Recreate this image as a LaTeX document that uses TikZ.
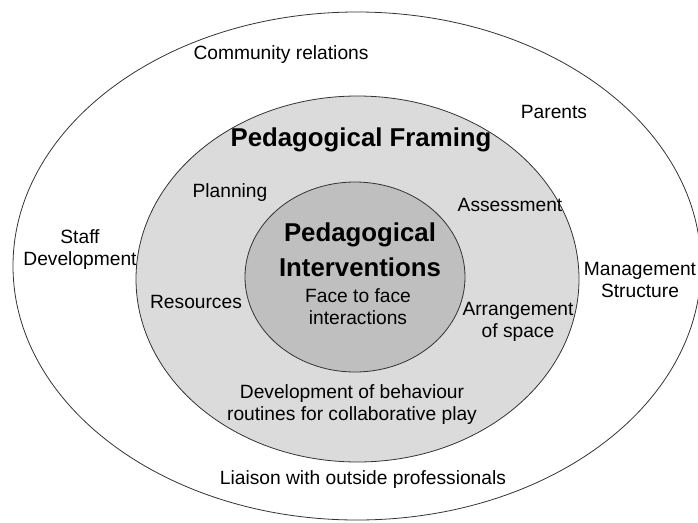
\documentclass[tikz,border=0pt]{standalone}
\usepackage{fontspec}
\setmainfont{Liberation Sans}
\usepackage{tikz}

\begin{document}
\begin{tikzpicture}[x=1pt, y=-1pt, line width=0.8pt,
    every node/.style={align=center, inner sep=0pt, font=\fontsize{19.2}{22}\selectfont},
    title/.style={font=\fontsize{25.8}{35}\selectfont\bfseries}]
  \useasboundingbox (0,0) rectangle (698,522);
  % rings
  \draw [black!80] (357,266) ellipse [x radius=344, y radius=254];
  \draw [black!80, fill=black!14] (357.5,279) ellipse [x radius=221.5, y radius=183];
  \draw [black!80, fill=black!25] (355,277) ellipse [x radius=110, y radius=95];
  % outer ring
  \node (comm) at (281,55) {Community relations};
  \node (par) at (554,112) {Parents};
  \node (staff) at (80,250) {Staff\\Development};
  \node (mgmt) at (640,280) {Management\\Structure};
  \node (liais) at (363,480) {Liaison with outside professionals};
  % middle ring
  \node (frame) [title] at (361,140) {Pedagogical Framing};
  \node (plan) at (230,193) {Planning};
  \node (assess) at (510,205) {Assessment};
  \node (res) at (196,302) {Resources};
  \node (arr) at (518,322) {Arrangement\\of space};
  \node (dev) at (352,405) {Development of behaviour\\routines for collaborative play};
  % centre
  \node (interv) [title] at (360,250) {Pedagogical\\Interventions};
  \node (face) at (358,307) {Face to face\\interactions};
\end{tikzpicture}
\end{document}
